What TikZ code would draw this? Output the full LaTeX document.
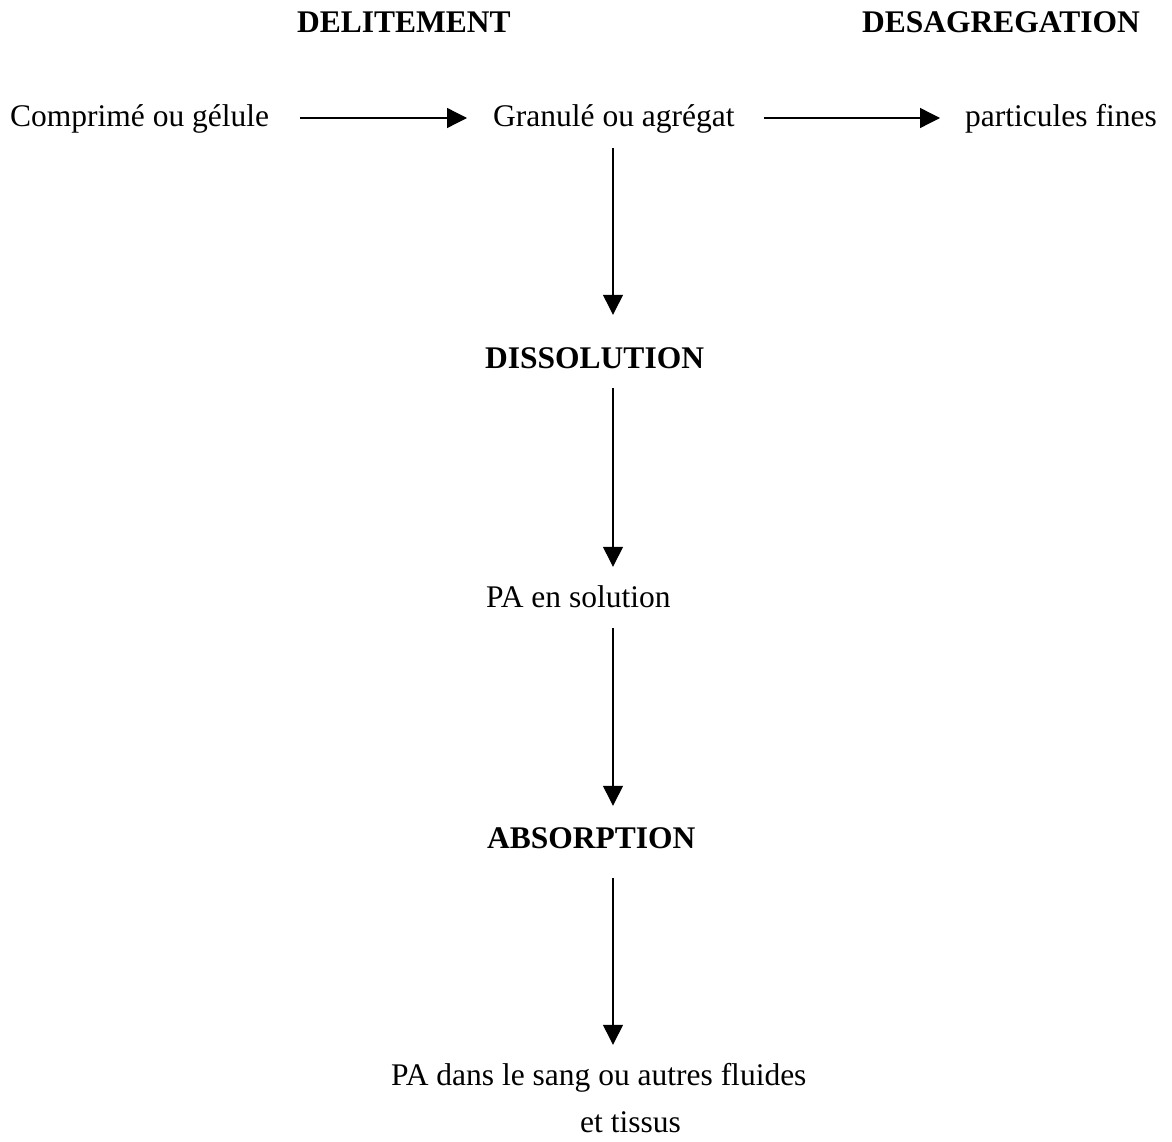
\documentclass[tikz,border=0pt]{standalone}
\usepackage{fontspec}
\setmainfont{Liberation Serif}
\usetikzlibrary{arrows.meta}
\begin{document}
\begin{tikzpicture}[x=1pt,y=-1pt,
  lbl/.style={inner sep=0pt, text height=18pt, text depth=0pt, anchor=base west,
    font=\fontsize{31.5}{38}\selectfont},
  bold/.style={lbl, font=\fontsize{31.5}{38}\selectfont\bfseries},
  arr/.style={line width=1.3pt, -{Triangle[length=20pt,width=20pt]}}]
\useasboundingbox (0,0) rectangle (1172,1142);
\coordinate (axis) at (613,0);
\node[bold] (delit) at (297,33) {DELITEMENT};
\node[bold] (desag) at (862,33) {DESAGREGATION};
\node[lbl] (comp) at (10,127) {Comprimé ou gélule};
\node[lbl] (gran) at (493,127) {Granulé ou agrégat};
\node[lbl] (part) at (965,127) {particules fines};
\node[bold] (diss) at (485,368) {DISSOLUTION};
\node[lbl] (sol) at (486,607) {PA en solution};
\node[bold] (abs) at (487,848) {ABSORPTION};
\node[lbl] (sang) at (391,1085) {PA dans le sang ou autres fluides};
\node[lbl] (tissus) at (580,1132) {et tissus};
\draw[arr, shorten <=31pt, shorten >=26pt] (comp.east) -- (gran.west);
\draw[arr, shorten <=29pt, shorten >=25pt] (gran.east) -- (part.west);
\draw[arr, shorten <=21pt, shorten >=35pt] (gran.south -| axis) -- (diss.north -| axis);
\draw[arr, shorten <=20pt, shorten >=22pt] (diss.south -| axis) -- (sol.north -| axis);
\draw[arr, shorten <=21pt, shorten >=24pt] (sol.south -| axis) -- (abs.north -| axis);
\draw[arr, shorten <=30pt, shorten >=22pt] (abs.south -| axis) -- (sang.north -| axis);
\end{tikzpicture}
\end{document}
